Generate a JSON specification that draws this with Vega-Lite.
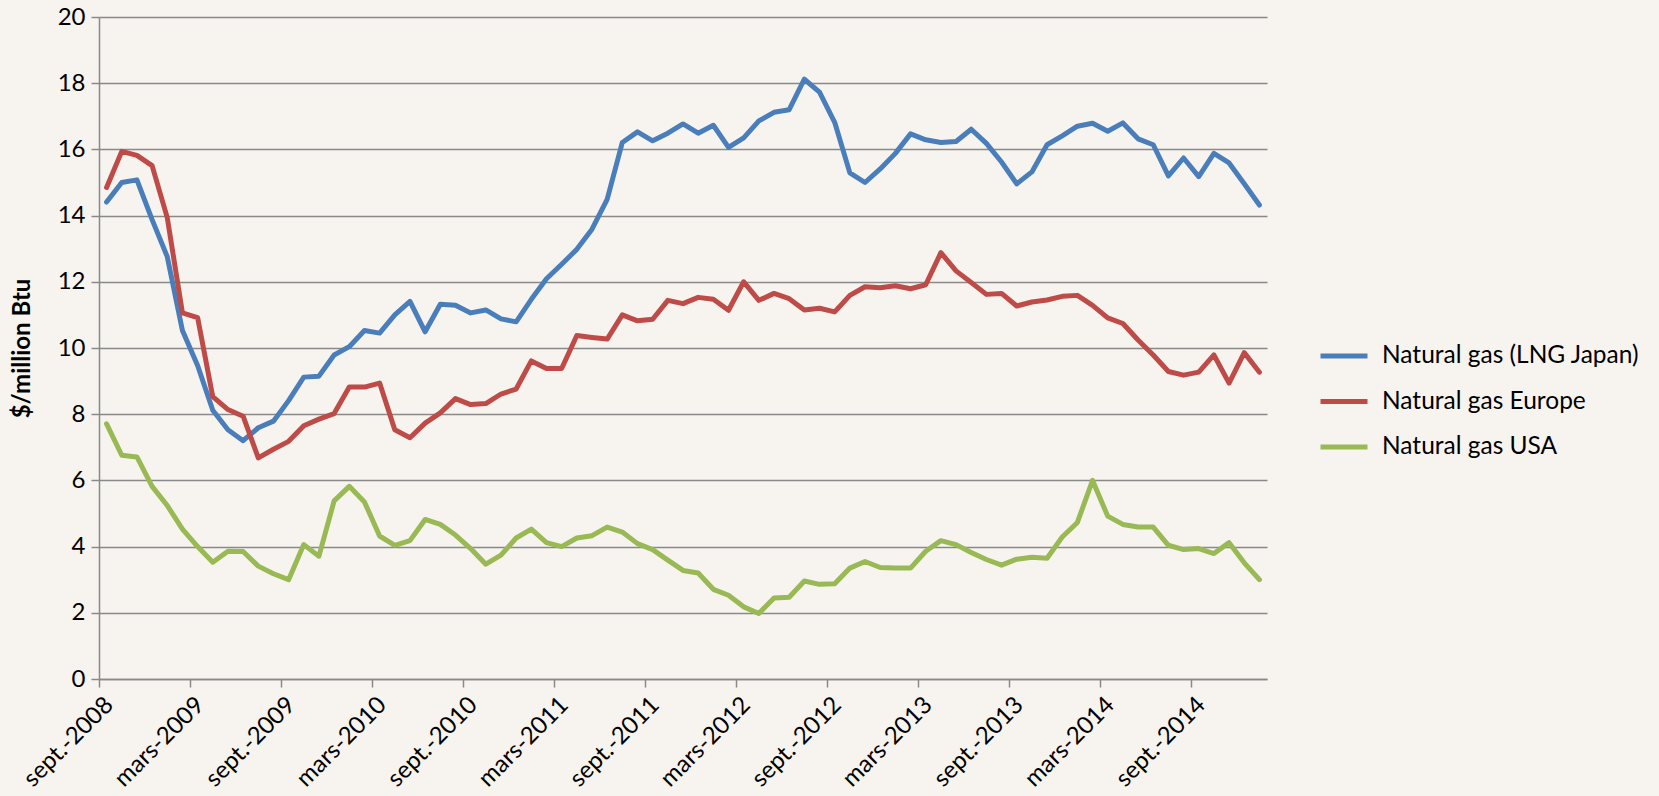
{
  "$schema": "https://vega.github.io/schema/vega-lite/v6.json",
  "width": 1168,
  "height": 662,
  "autosize": {"type": "none"},
  "padding": {"left": 99, "top": 17, "right": 392, "bottom": 117},
  "background": "#F7F4EF",
  "config": {"view": {"stroke": null}, "font": "Lato"},
  "data": {"values": [
    {"m":"2008-09","Natural gas (LNG Japan)":14.41,"Natural gas Europe":14.85,"Natural gas USA":7.71},
    {"m":"2008-10","Natural gas (LNG Japan)":15.00,"Natural gas Europe":15.94,"Natural gas USA":6.76},
    {"m":"2008-11","Natural gas (LNG Japan)":15.08,"Natural gas Europe":15.82,"Natural gas USA":6.71},
    {"m":"2008-12","Natural gas (LNG Japan)":13.88,"Natural gas Europe":15.51,"Natural gas USA":5.82},
    {"m":"2009-01","Natural gas (LNG Japan)":12.76,"Natural gas Europe":13.94,"Natural gas USA":5.24},
    {"m":"2009-02","Natural gas (LNG Japan)":10.53,"Natural gas Europe":11.06,"Natural gas USA":4.53},
    {"m":"2009-03","Natural gas (LNG Japan)":9.47,"Natural gas Europe":10.92,"Natural gas USA":4.00},
    {"m":"2009-04","Natural gas (LNG Japan)":8.12,"Natural gas Europe":8.53,"Natural gas USA":3.53},
    {"m":"2009-05","Natural gas (LNG Japan)":7.53,"Natural gas Europe":8.14,"Natural gas USA":3.86},
    {"m":"2009-06","Natural gas (LNG Japan)":7.20,"Natural gas Europe":7.94,"Natural gas USA":3.85},
    {"m":"2009-07","Natural gas (LNG Japan)":7.59,"Natural gas Europe":6.68,"Natural gas USA":3.41},
    {"m":"2009-08","Natural gas (LNG Japan)":7.79,"Natural gas Europe":6.94,"Natural gas USA":3.18},
    {"m":"2009-09","Natural gas (LNG Japan)":8.41,"Natural gas Europe":7.18,"Natural gas USA":3.00},
    {"m":"2009-10","Natural gas (LNG Japan)":9.12,"Natural gas Europe":7.65,"Natural gas USA":4.06},
    {"m":"2009-11","Natural gas (LNG Japan)":9.15,"Natural gas Europe":7.85,"Natural gas USA":3.71},
    {"m":"2009-12","Natural gas (LNG Japan)":9.79,"Natural gas Europe":8.02,"Natural gas USA":5.38},
    {"m":"2010-01","Natural gas (LNG Japan)":10.04,"Natural gas Europe":8.82,"Natural gas USA":5.82},
    {"m":"2010-02","Natural gas (LNG Japan)":10.53,"Natural gas Europe":8.82,"Natural gas USA":5.35},
    {"m":"2010-03","Natural gas (LNG Japan)":10.45,"Natural gas Europe":8.94,"Natural gas USA":4.32},
    {"m":"2010-04","Natural gas (LNG Japan)":11.00,"Natural gas Europe":7.53,"Natural gas USA":4.04},
    {"m":"2010-05","Natural gas (LNG Japan)":11.41,"Natural gas Europe":7.29,"Natural gas USA":4.18},
    {"m":"2010-06","Natural gas (LNG Japan)":10.49,"Natural gas Europe":7.73,"Natural gas USA":4.82},
    {"m":"2010-07","Natural gas (LNG Japan)":11.32,"Natural gas Europe":8.04,"Natural gas USA":4.67},
    {"m":"2010-08","Natural gas (LNG Japan)":11.29,"Natural gas Europe":8.47,"Natural gas USA":4.35},
    {"m":"2010-09","Natural gas (LNG Japan)":11.06,"Natural gas Europe":8.29,"Natural gas USA":3.94},
    {"m":"2010-10","Natural gas (LNG Japan)":11.15,"Natural gas Europe":8.32,"Natural gas USA":3.47},
    {"m":"2010-11","Natural gas (LNG Japan)":10.88,"Natural gas Europe":8.61,"Natural gas USA":3.74},
    {"m":"2010-12","Natural gas (LNG Japan)":10.79,"Natural gas Europe":8.76,"Natural gas USA":4.26},
    {"m":"2011-01","Natural gas (LNG Japan)":11.47,"Natural gas Europe":9.61,"Natural gas USA":4.53},
    {"m":"2011-02","Natural gas (LNG Japan)":12.09,"Natural gas Europe":9.38,"Natural gas USA":4.12},
    {"m":"2011-03","Natural gas (LNG Japan)":12.53,"Natural gas Europe":9.38,"Natural gas USA":4.00},
    {"m":"2011-04","Natural gas (LNG Japan)":12.98,"Natural gas Europe":10.38,"Natural gas USA":4.26},
    {"m":"2011-05","Natural gas (LNG Japan)":13.59,"Natural gas Europe":10.32,"Natural gas USA":4.33},
    {"m":"2011-06","Natural gas (LNG Japan)":14.49,"Natural gas Europe":10.27,"Natural gas USA":4.59},
    {"m":"2011-07","Natural gas (LNG Japan)":16.21,"Natural gas Europe":11.00,"Natural gas USA":4.44},
    {"m":"2011-08","Natural gas (LNG Japan)":16.53,"Natural gas Europe":10.82,"Natural gas USA":4.09},
    {"m":"2011-09","Natural gas (LNG Japan)":16.26,"Natural gas Europe":10.87,"Natural gas USA":3.91},
    {"m":"2011-10","Natural gas (LNG Japan)":16.49,"Natural gas Europe":11.44,"Natural gas USA":3.59},
    {"m":"2011-11","Natural gas (LNG Japan)":16.77,"Natural gas Europe":11.34,"Natural gas USA":3.28},
    {"m":"2011-12","Natural gas (LNG Japan)":16.49,"Natural gas Europe":11.53,"Natural gas USA":3.20},
    {"m":"2012-01","Natural gas (LNG Japan)":16.73,"Natural gas Europe":11.47,"Natural gas USA":2.71},
    {"m":"2012-02","Natural gas (LNG Japan)":16.06,"Natural gas Europe":11.14,"Natural gas USA":2.53},
    {"m":"2012-03","Natural gas (LNG Japan)":16.35,"Natural gas Europe":12.00,"Natural gas USA":2.18},
    {"m":"2012-04","Natural gas (LNG Japan)":16.86,"Natural gas Europe":11.44,"Natural gas USA":1.98},
    {"m":"2012-05","Natural gas (LNG Japan)":17.12,"Natural gas Europe":11.65,"Natural gas USA":2.45},
    {"m":"2012-06","Natural gas (LNG Japan)":17.20,"Natural gas Europe":11.49,"Natural gas USA":2.47},
    {"m":"2012-07","Natural gas (LNG Japan)":18.12,"Natural gas Europe":11.15,"Natural gas USA":2.96},
    {"m":"2012-08","Natural gas (LNG Japan)":17.73,"Natural gas Europe":11.20,"Natural gas USA":2.86},
    {"m":"2012-09","Natural gas (LNG Japan)":16.82,"Natural gas Europe":11.09,"Natural gas USA":2.88},
    {"m":"2012-10","Natural gas (LNG Japan)":15.29,"Natural gas Europe":11.59,"Natural gas USA":3.35},
    {"m":"2012-11","Natural gas (LNG Japan)":15.00,"Natural gas Europe":11.85,"Natural gas USA":3.55},
    {"m":"2012-12","Natural gas (LNG Japan)":15.41,"Natural gas Europe":11.82,"Natural gas USA":3.37},
    {"m":"2013-01","Natural gas (LNG Japan)":15.88,"Natural gas Europe":11.88,"Natural gas USA":3.35},
    {"m":"2013-02","Natural gas (LNG Japan)":16.47,"Natural gas Europe":11.79,"Natural gas USA":3.35},
    {"m":"2013-03","Natural gas (LNG Japan)":16.29,"Natural gas Europe":11.91,"Natural gas USA":3.86},
    {"m":"2013-04","Natural gas (LNG Japan)":16.21,"Natural gas Europe":12.88,"Natural gas USA":4.18},
    {"m":"2013-05","Natural gas (LNG Japan)":16.24,"Natural gas Europe":12.33,"Natural gas USA":4.06},
    {"m":"2013-06","Natural gas (LNG Japan)":16.61,"Natural gas Europe":11.98,"Natural gas USA":3.82},
    {"m":"2013-07","Natural gas (LNG Japan)":16.18,"Natural gas Europe":11.62,"Natural gas USA":3.61},
    {"m":"2013-08","Natural gas (LNG Japan)":15.62,"Natural gas Europe":11.65,"Natural gas USA":3.44},
    {"m":"2013-09","Natural gas (LNG Japan)":14.96,"Natural gas Europe":11.27,"Natural gas USA":3.62},
    {"m":"2013-10","Natural gas (LNG Japan)":15.32,"Natural gas Europe":11.39,"Natural gas USA":3.68},
    {"m":"2013-11","Natural gas (LNG Japan)":16.14,"Natural gas Europe":11.45,"Natural gas USA":3.65},
    {"m":"2013-12","Natural gas (LNG Japan)":16.41,"Natural gas Europe":11.56,"Natural gas USA":4.29},
    {"m":"2014-01","Natural gas (LNG Japan)":16.70,"Natural gas Europe":11.59,"Natural gas USA":4.73},
    {"m":"2014-02","Natural gas (LNG Japan)":16.79,"Natural gas Europe":11.29,"Natural gas USA":6.00},
    {"m":"2014-03","Natural gas (LNG Japan)":16.55,"Natural gas Europe":10.91,"Natural gas USA":4.92},
    {"m":"2014-04","Natural gas (LNG Japan)":16.80,"Natural gas Europe":10.74,"Natural gas USA":4.67},
    {"m":"2014-05","Natural gas (LNG Japan)":16.32,"Natural gas Europe":10.24,"Natural gas USA":4.59},
    {"m":"2014-06","Natural gas (LNG Japan)":16.14,"Natural gas Europe":9.79,"Natural gas USA":4.59},
    {"m":"2014-07","Natural gas (LNG Japan)":15.20,"Natural gas Europe":9.29,"Natural gas USA":4.04},
    {"m":"2014-08","Natural gas (LNG Japan)":15.74,"Natural gas Europe":9.18,"Natural gas USA":3.91},
    {"m":"2014-09","Natural gas (LNG Japan)":15.18,"Natural gas Europe":9.27,"Natural gas USA":3.94},
    {"m":"2014-10","Natural gas (LNG Japan)":15.88,"Natural gas Europe":9.79,"Natural gas USA":3.79},
    {"m":"2014-11","Natural gas (LNG Japan)":15.59,"Natural gas Europe":8.94,"Natural gas USA":4.12},
    {"m":"2014-12","Natural gas (LNG Japan)":14.96,"Natural gas Europe":9.86,"Natural gas USA":3.51},
    {"m":"2015-01","Natural gas (LNG Japan)":14.32,"Natural gas Europe":9.27,"Natural gas USA":3.00}
  ]},
  "transform": [
    {"fold": ["Natural gas (LNG Japan)", "Natural gas Europe", "Natural gas USA"], "as": ["series", "v"]}
  ],
  "mark": {"type": "line", "strokeWidth": 5, "strokeCap": "round", "strokeJoin": "round"},
  "encoding": {
    "x": {
      "field": "m", "type": "ordinal",
      "scale": {"type": "band", "paddingInner": 0, "paddingOuter": 0},
      "bandPosition": 0.5,
      "axis": {
        "title": null,
        "values": ["2008-09","2009-03","2009-09","2010-03","2010-09","2011-03","2011-09","2012-03","2012-09","2013-03","2013-09","2014-03","2014-09"],
        "bandPosition": 0,
        "labelExpr": "(substring(datum.value,5,7)=='09' ? 'sept.-' : 'mars-') + substring(datum.value,0,4)",
        "labelAngle": -45, "labelAlign": "right", "labelBaseline": "middle",
        "labelOffset": 3, "labelPadding": 14, "labelOverlap": false, "labelBound": false, "labelFlush": false,
        "labelFont": "Lato", "labelFontSize": 24, "labelColor": "#000000",
        "tickSize": 8, "tickWidth": 1.5, "tickColor": "#898989",
        "domainColor": "#898989", "domainWidth": 1.5, "grid": false
      }
    },
    "y": {
      "field": "v", "type": "quantitative",
      "scale": {"domain": [0, 20], "nice": false, "zero": true},
      "axis": {
        "title": "$/million Btu",
        "titleFont": "Lato", "titleFontSize": 24, "titleFontWeight": "bold", "titleColor": "#000000",
        "titleAngle": -90, "titleX": -77, "titleY": 331, "titleAlign": "center", "titleBaseline": "middle",
        "values": [0, 2, 4, 6, 8, 10, 12, 14, 16, 18, 20],
        "labelFont": "Lato", "labelFontSize": 24, "labelColor": "#000000", "labelPadding": 6,
        "tickSize": 8, "tickWidth": 1.5, "tickColor": "#898989",
        "domainColor": "#898989", "domainWidth": 1.5,
        "grid": true, "gridColor": "#898989", "gridWidth": 1.5
      }
    },
    "color": {
      "field": "series", "type": "nominal",
      "scale": {
        "domain": ["Natural gas (LNG Japan)", "Natural gas Europe", "Natural gas USA"],
        "range": ["#4A7EBB", "#BE4B48", "#98B954"]
      },
      "legend": {
        "title": null, "orient": "none", "legendX": 1219, "legendY": 313,
        "symbolType": "stroke", "symbolSize": 2209, "symbolStrokeWidth": 5,
        "labelFont": "Lato", "labelFontSize": 24.5, "labelColor": "#000000",
        "labelOffset": 12, "rowPadding": 7.5, "labelLimit": 400
      }
    }
  }
}
